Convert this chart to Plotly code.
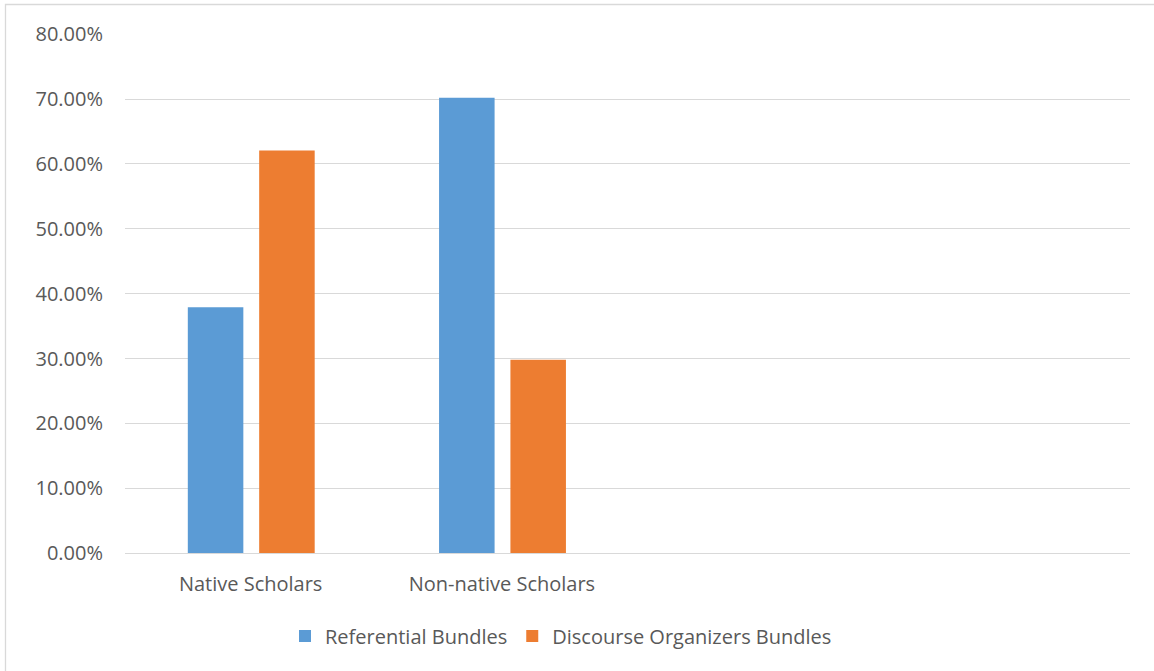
import plotly.graph_objects as go

categories = ["Native Scholars", "Non-native Scholars"]
referential = [0.379, 0.702]
discourse = [0.621, 0.298]
y_ticks = [0, 0.1, 0.2, 0.3, 0.4, 0.5, 0.6, 0.7, 0.8]
y_tick_labels = ["0.00%", "10.00%", "20.00%", "30.00%", "40.00%", "50.00%", "60.00%", "70.00%", "80.00%"]

W, H = 1154, 671
L, R, T, B = 125, 1130, 34, 553
FONT = "Open Sans"
TXT = "#595959"
FS = 20

fig = go.Figure()
fig.add_trace(go.Bar(x=categories, y=referential, name="Referential Bundles",
                     marker=dict(color="#5B9BD5", line=dict(width=0)),
                     width=0.221, offset=-0.25))
fig.add_trace(go.Bar(x=categories, y=discourse, name="Discourse Organizers Bundles",
                     marker=dict(color="#ED7D31", line=dict(width=0)),
                     width=0.221, offset=0.034))

def px2x(px):
    return (px - L) / (R - L)

def px2y(py):
    return (B - py) / (B - T)

fig.add_shape(type="rect", xref="paper", yref="paper",
              x0=px2x(5.5), x1=px2x(1170), y0=px2y(690), y1=px2y(4.5),
              line=dict(color="#d9d9d9", width=1.3), fillcolor="rgba(0,0,0,0)", layer="below")

fig.update_layout(
    width=W, height=H,
    margin=dict(l=L, r=W - R, t=T, b=H - B, pad=0),
    paper_bgcolor="white", plot_bgcolor="white",
    barmode="group",
    font=dict(family=FONT, size=FS, color=TXT),
    showlegend=True,
    legend=dict(orientation="h", xref="container", yref="container",
                x=285 / W, xanchor="left", y=1 - 636 / H, yanchor="middle",
                font=dict(family=FONT, size=FS, color=TXT),
                itemwidth=30, bgcolor="rgba(0,0,0,0)"),
    xaxis=dict(type="category", range=[-0.5, 3.5], showgrid=False,
               showline=True, linecolor="#d9d9d9", linewidth=1.3,
               ticks="", tickfont=dict(family=FONT, size=FS, color=TXT),
               ticklabelstandoff=13, fixedrange=True),
    yaxis=dict(range=[0, 0.8005], tickvals=y_ticks, ticktext=y_tick_labels,
               showgrid=True, gridcolor="#d9d9d9", gridwidth=1.3,
               zeroline=False, showline=False, ticks="",
               tickfont=dict(family=FONT, size=FS, color=TXT),
               ticklabelstandoff=21, fixedrange=True),
)

fig.write_html("out.html")
